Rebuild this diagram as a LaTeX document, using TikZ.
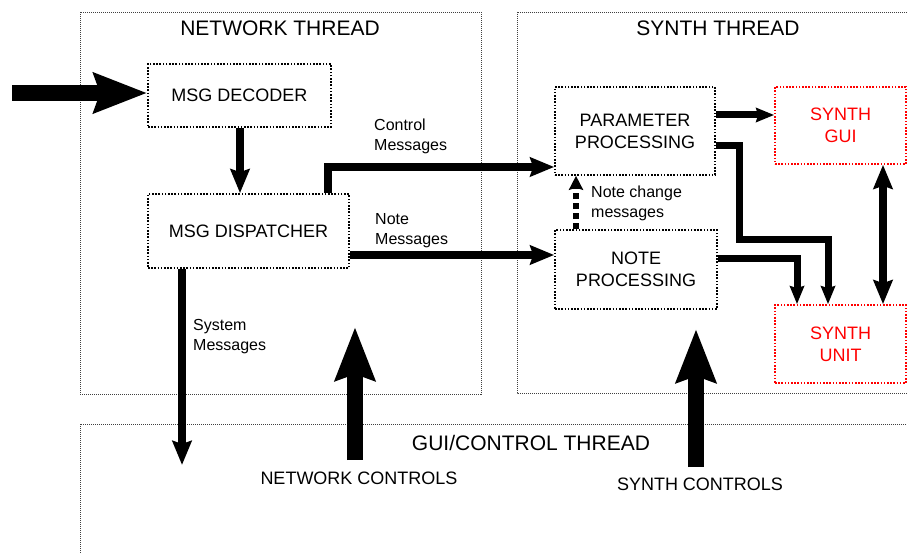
\documentclass[tikz,border=0pt]{standalone}
\usepackage{fontspec}
\setmainfont{Liberation Sans}
\usetikzlibrary{arrows.meta}
\tikzset{
  thrd/.style={draw=black!75, line width=0.8pt, dash pattern=on 1pt off 1pt},
  blk/.style={draw, line width=1.6pt, dash pattern=on 1.6pt off 1.6pt, align=center, inner sep=0pt, font=\fontsize{18}{22}\selectfont},
  synthblk/.style={blk, draw=red, text=red},
  lbl/.style={align=left, anchor=west, inner sep=0pt, font=\fontsize{16}{20}\selectfont},
  title/.style={inner sep=0pt, font=\fontsize{21}{24}\selectfont},
  bigarr/.style={line width=16pt, -{Stealth[length=53pt,width=39pt,inset=6pt]}},
  midarr/.style={line width=8pt, miter limit=10, -{Stealth[length=24pt,width=19pt,inset=3pt]}},
  smallarr/.style={line width=7pt, -{Stealth[length=18pt,width=14pt,inset=2pt]}},
}
\begin{document}
\begin{tikzpicture}[x=1pt,y=-1pt]
			\useasboundingbox (0,0) rectangle (907,553);
			
			%%%%% FRAMES %%%%%
			\draw[thrd] (80,12) rectangle (481,394);
			\draw[thrd] (517,12) rectangle (920,393);
			\draw[thrd] (80,424) rectangle (920,570);
			
			\node[title] (nettitle) at (280,28) {NETWORK THREAD};
			\node[title] (syntitle) at (718,28) {SYNTH THREAD};
			\node[title] (guititle) at (531,443) {GUI/CONTROL THREAD};
			
			%%%%% BOXES %%%%%
			\node[blk, minimum width=183pt, minimum height=63pt] (dec) at (239.5,95.5) {MSG DECODER};
			\node[blk, minimum width=201pt, minimum height=74pt] (disp) at (248.5,231) {MSG DISPATCHER};
			\node[blk, minimum width=160pt, minimum height=88pt] (param) at (635,131) {PARAMETER\\PROCESSING};
			\node[blk, minimum width=162pt, minimum height=79pt] (note) at (636,269.5) {NOTE\\PROCESSING};
			\node[synthblk, minimum width=131pt, minimum height=77pt] (gui) at (840.5,125.5) {SYNTH\\GUI};
			\node[synthblk, minimum width=131pt, minimum height=78pt] (unit) at (840.5,344) {SYNTH\\UNIT};
			
			%%%%% LABELS %%%%%
			\node[lbl] (ctllbl) at (374,136) {Control\\Messages};
			\node[lbl] (notelbl) at (375,231) {Note\\Messages};
			\node[lbl] (chglbl) at (591,203) {Note change\\messages};
			\node[lbl] (syslbl) at (193,337) {System\\Messages};
			\node[inner sep=0pt, font=\fontsize{18}{22}\selectfont] (netlbl) at (359,478) {NETWORK CONTROLS};
			\node[inner sep=0pt, font=\fontsize{18}{22}\selectfont] (synlbl) at (700,484) {SYNTH CONTROLS};
			
			%%%%% CONNECTORS %%%%%
			\coordinate (in) at (12,93);
			\coordinate (ctl) at (328,167);
			\coordinate (nm) at (0,255);
			\coordinate (chg) at (576,0);
			\coordinate (pg) at (0,115);
			\coordinate (pu) at (739,146);
			\coordinate (pudown) at (828,240);
			\coordinate (nu) at (797,259);
			\coordinate (gu) at (883,0);
			\coordinate (sys) at (182,465);
			\coordinate (netc) at (355,460);
			\coordinate (sync) at (696,467);
			
			\draw[bigarr] (in) -- (in -| dec.west);
			\draw[midarr] (dec.south -| 240,0) -- (disp.north -| 240,0);
			\draw[midarr] (disp.north -| ctl) |- (ctl -| param.west);
			\draw[midarr] (disp.east |- nm) -- (note.west |- nm);
			\draw[line width=6pt, dash pattern=on 6pt off 4pt, -{Stealth[length=14pt,width=14pt,inset=2pt]}] (note.north -| chg) -- (param.south -| chg);
			\draw[smallarr] (param.east |- pg) -- (gui.west |- pg);
			\draw[smallarr, miter limit=10] (param.east |- pu) -- (pu) |- (pudown) -- (pudown |- unit.north);
			\draw[smallarr, miter limit=10] (note.east |- nu) -| (unit.north -| nu);
			\draw[line width=8pt, {Stealth[length=24pt,width=19pt,inset=3pt]}-{Stealth[length=24pt,width=19pt,inset=3pt]}] (gui.south -| gu) -- (unit.north -| gu);
			\draw[midarr] (disp.south -| sys) -- (sys);
			\draw[bigarr] (netc) -- (355,327);
			\draw[bigarr] (sync) -- (696,329);
\end{tikzpicture}
\end{document}
